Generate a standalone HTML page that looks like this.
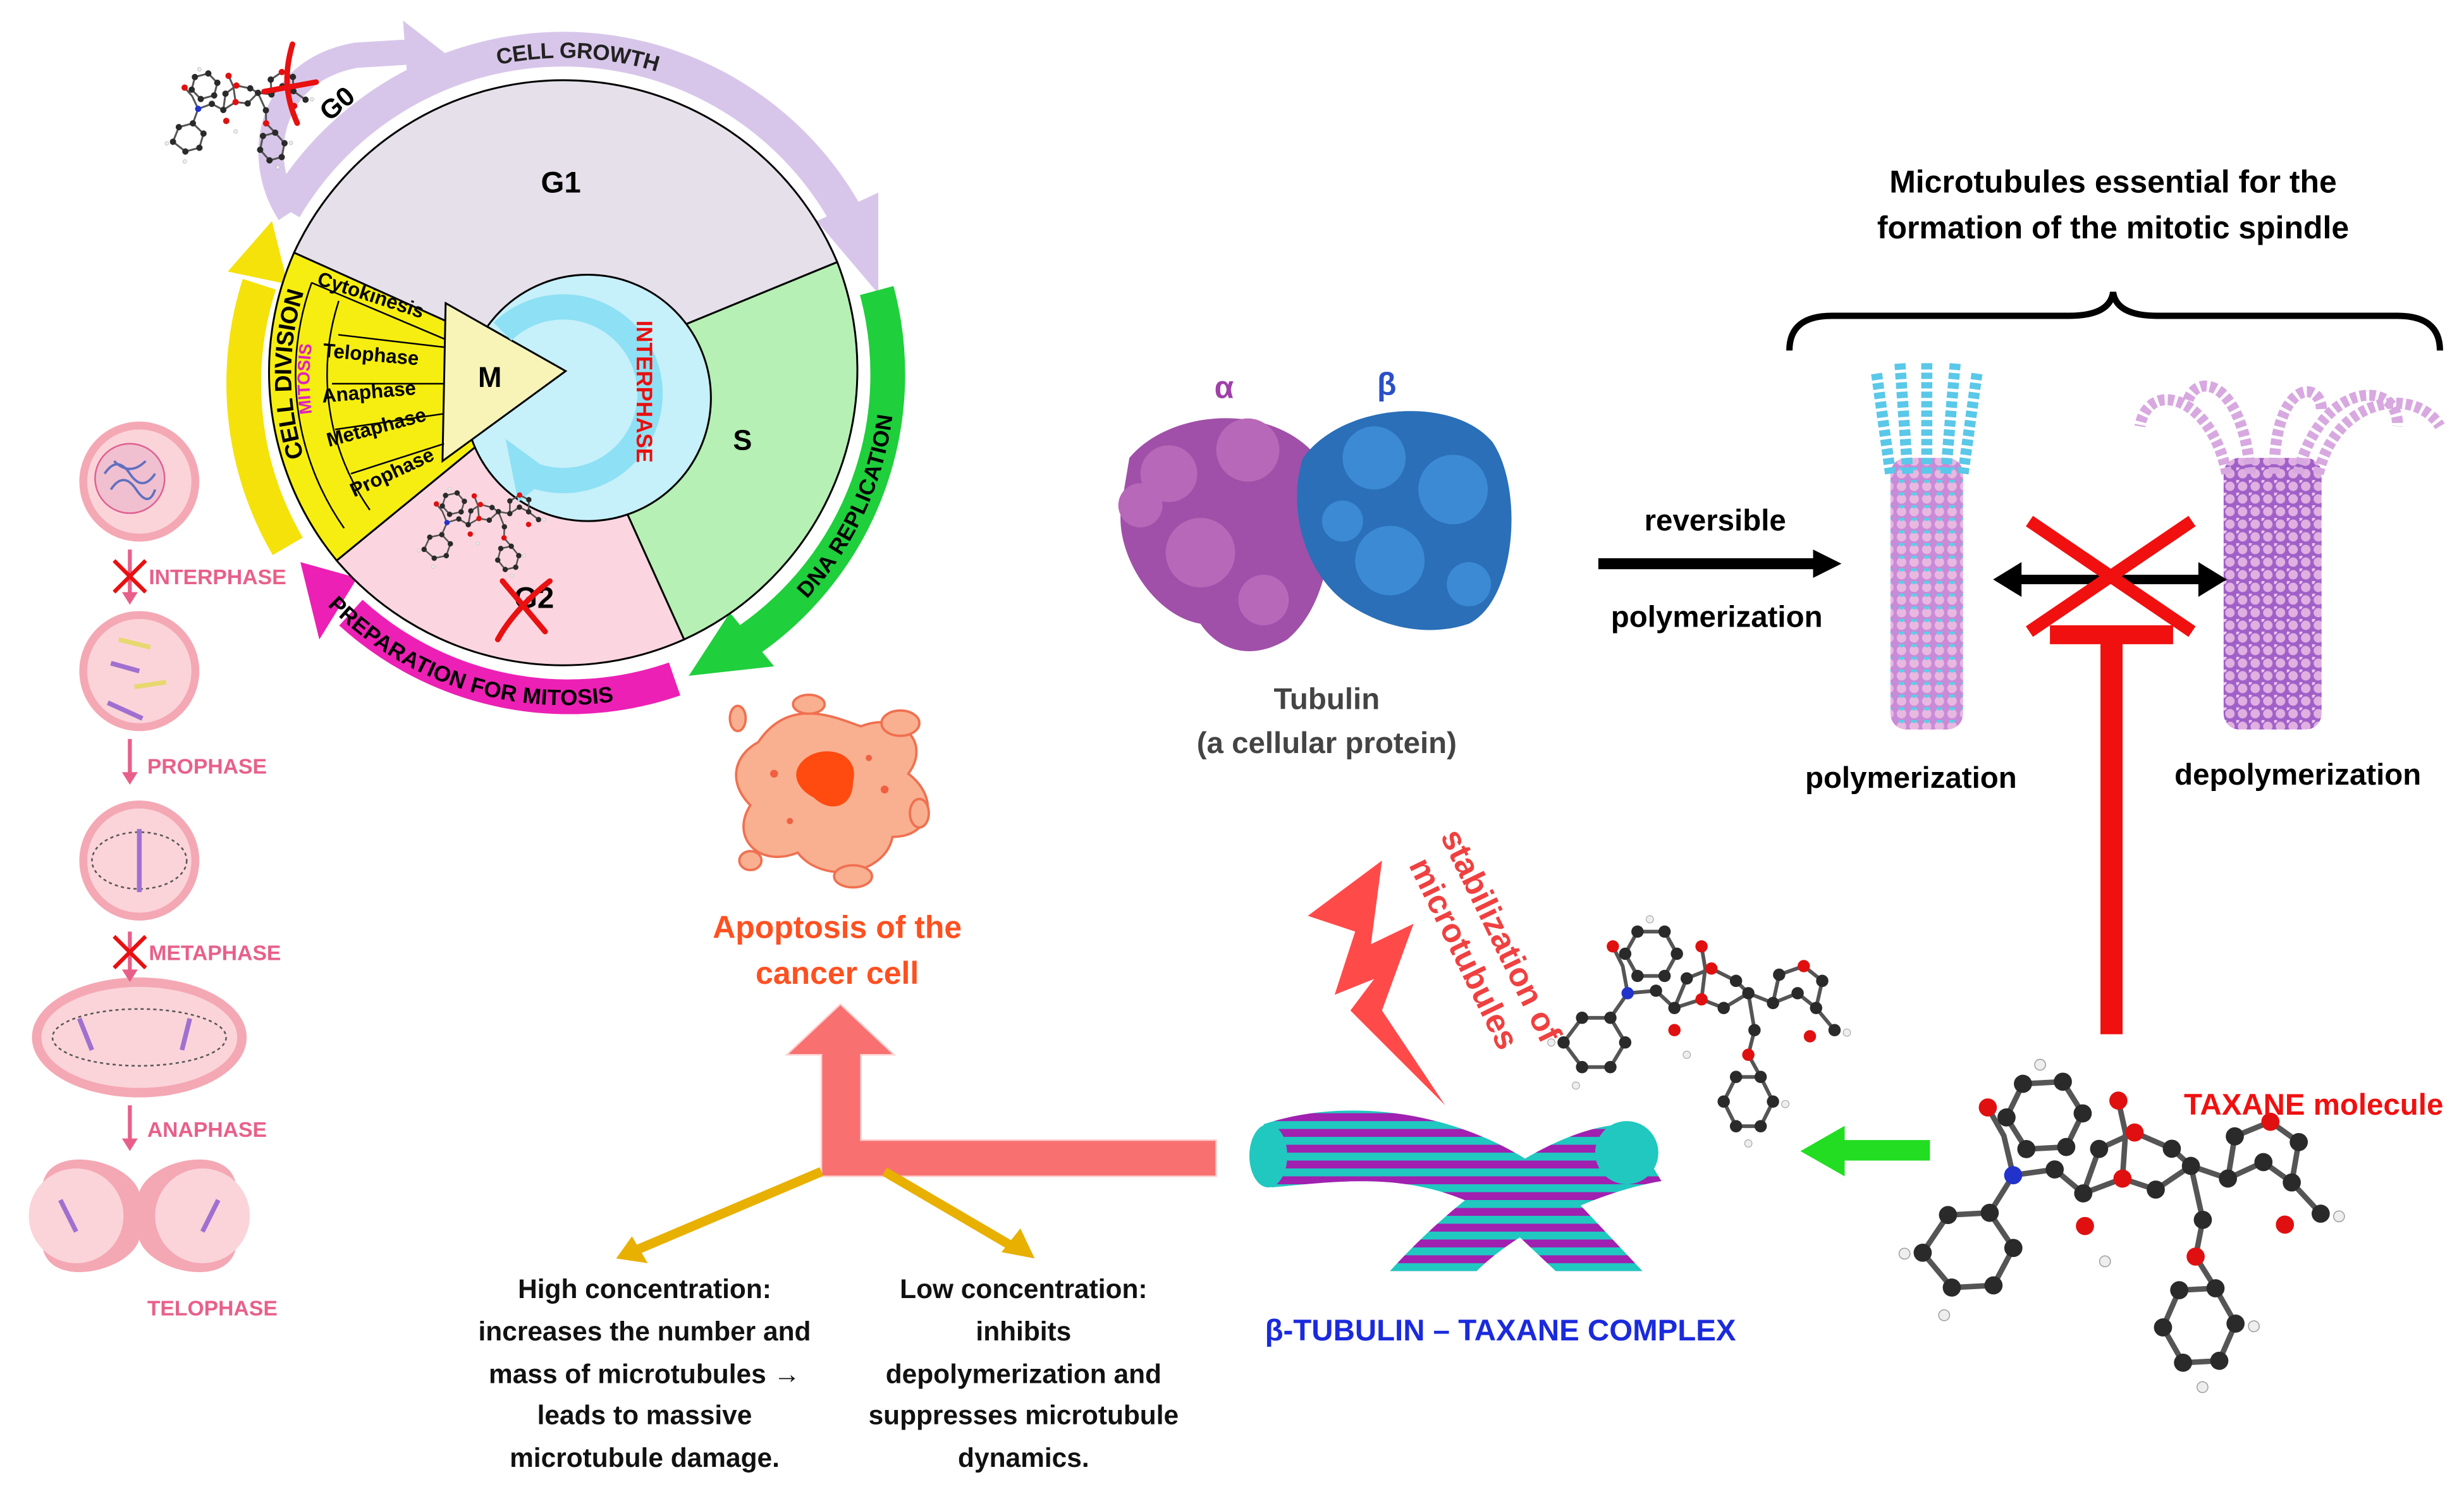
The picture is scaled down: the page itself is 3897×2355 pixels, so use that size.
<!DOCTYPE html>
<html><head><meta charset="utf-8"><style>
html,body{margin:0;padding:0;background:#fff;}
svg{display:block;}
text{font-family:"Liberation Sans",sans-serif;font-weight:bold;}
</style></head><body>
<svg width="3897" height="2355" viewBox="0 0 1560 943" xmlns="http://www.w3.org/2000/svg">
<defs>
<g id="mol">
 <g stroke="#555" stroke-width="3" fill="none">
  <polyline points="0,90 15,70 38,70 50,90 38,110 15,110 0,90"/>
  <polyline points="38,70 52,50 75,48 90,62 112,55 130,62 150,50 170,58 190,50 205,62 220,80"/>
  <polyline points="52,50 48,28 40,12"/>
  <polyline points="60,0 82,0 92,18 82,36 60,36 50,18 60,0"/>
  <polyline points="90,62 100,38 120,30 140,40 150,50"/>
  <polyline points="170,58 175,35 195,28 210,40 205,62"/>
  <polyline points="150,50 155,80 150,100 160,118"/>
  <polyline points="140,118 160,118 170,138 160,158 140,158 130,138 140,118"/>
  <polyline points="112,55 115,30 112,12"/>
 </g>
 <g fill="#2a2a2a">
  <circle cx="0" cy="90" r="5"/><circle cx="15" cy="70" r="5"/><circle cx="38" cy="70" r="5"/><circle cx="50" cy="90" r="5"/><circle cx="38" cy="110" r="5"/><circle cx="15" cy="110" r="5"/>
  <circle cx="75" cy="48" r="5"/><circle cx="90" cy="62" r="5"/><circle cx="130" cy="62" r="5"/><circle cx="150" cy="50" r="5"/><circle cx="170" cy="58" r="5"/><circle cx="190" cy="50" r="5"/><circle cx="205" cy="62" r="5"/><circle cx="220" cy="80" r="5"/>
  <circle cx="60" cy="0" r="5"/><circle cx="82" cy="0" r="5"/><circle cx="92" cy="18" r="5"/><circle cx="82" cy="36" r="5"/><circle cx="60" cy="36" r="5"/><circle cx="50" cy="18" r="5"/>
  <circle cx="100" cy="38" r="5"/><circle cx="140" cy="40" r="5"/><circle cx="175" cy="35" r="5"/><circle cx="210" cy="40" r="5"/>
  <circle cx="155" cy="80" r="5"/><circle cx="140" cy="118" r="5"/><circle cx="160" cy="118" r="5"/><circle cx="170" cy="138" r="5"/><circle cx="160" cy="158" r="5"/><circle cx="140" cy="158" r="5"/><circle cx="130" cy="138" r="5"/>
 </g>
 <g fill="#e01010">
  <circle cx="112" cy="55" r="5"/><circle cx="120" cy="30" r="5"/><circle cx="112" cy="12" r="5"/><circle cx="195" cy="28" r="5"/><circle cx="150" cy="100" r="5"/><circle cx="40" cy="12" r="5"/><circle cx="90" cy="80" r="5"/><circle cx="200" cy="85" r="5"/>
 </g>
 <circle cx="52" cy="50" r="5" fill="#2233cc"/>
 <g fill="#eee" stroke="#999" stroke-width="0.5">
  <circle cx="-10" cy="90" r="3"/><circle cx="10" cy="125" r="3"/><circle cx="230" cy="82" r="3"/><circle cx="70" cy="-10" r="3"/><circle cx="180" cy="140" r="3"/><circle cx="150" cy="172" r="3"/><circle cx="100" cy="100" r="3"/>
 </g>
</g>
<pattern id="mtp" width="8" height="8" patternUnits="userSpaceOnUse">
 <rect width="8" height="8" fill="#c98ad8"/><circle cx="4" cy="4" r="3" fill="#e8b8e0"/><circle cx="4" cy="0" r="2" fill="#5ad0e8"/>
</pattern>
<pattern id="mtp2" width="8" height="8" patternUnits="userSpaceOnUse">
 <rect width="8" height="8" fill="#a060c8"/><circle cx="4" cy="4" r="3" fill="#e0b0e0"/><circle cx="0" cy="0" r="2" fill="#f0c8f0"/>
</pattern>
<pattern id="cx" width="10" height="10" patternUnits="userSpaceOnUse">
 <rect width="10" height="10" fill="#a020b0"/><rect width="10" height="5" fill="#20c8c0"/>
</pattern>
<path id="pGrowth" d="M 286.9,44.4 A 205,205 0 0 1 443.6,51.2"/>
<path id="pDNA" d="M 459.5,414.5 A 205,205 0 0 0 558.9,201.4"/>
<path id="pPrep" d="M 195.5,363.2 A 205,205 0 0 0 410,435"/>
<path id="pDiv" d="M 189.7,297.9 A 178,178 0 0 1 189.7,176.1"/>
<path id="pMit" d="M 200,290 A 160,160 0 0 1 200,190"/>
</defs>

<g>
 <path d="M 183,135 C 160,100 170,45 225,35 L 258,33" fill="none" stroke="#d8c6ea" stroke-width="16"/>
 <polygon points="255,13 282,34 258,53" fill="#d8c6ea"/>
 <path d="M 180,132 A 205,205 0 0 1 542.8,150.4" fill="none" stroke="#d8c6ea" stroke-width="22"/>
 <polygon points="517,140 556,122 556,186" fill="#d8c6ea"/>
 <path d="M 555,184 A 205,205 0 0 1 474.6,405" fill="none" stroke="#1fcf3c" stroke-width="22"/>
 <polygon points="462,388 490,422 436,428" fill="#1fcf3c"/>
 <path d="M 427,430 A 205,205 0 0 1 222,388" fill="none" stroke="#ec20b4" stroke-width="22"/>
 <polygon points="226,366 202,405 190,356" fill="#ec20b4"/>
 <path d="M 182,346 A 205,205 0 0 1 164,180" fill="none" stroke="#f4e20a" stroke-width="22"/>
 <polygon points="182,180 144,172 172,140" fill="#f4e20a"/>
 <g stroke="#000" stroke-width="1.2">
  <path d="M357,237 L186,160 A188,188 0 0 1 530,166 Z" fill="#e6e0ea"/>
  <path d="M357,237 L530,166 A188,188 0 0 1 433,405 Z" fill="#b6f0b4"/>
  <path d="M357,237 L433,405 A188,188 0 0 1 213,355 Z" fill="#fbd6e0"/>
  <path d="M357,237 L213,355 A188,188 0 0 1 186,160 Z" fill="#f6ee10"/>
  <circle cx="372" cy="252" r="78" fill="#c6f0fa"/>
  <path d="M 282,192 L 358,235 L 280,292 Z" fill="#f8f4b8"/>
 </g>
 <path d="M 318,210 A 55,55 0 1 1 335,300" fill="none" stroke="#8ee0f4" stroke-width="16"/>
 <polygon points="320,278 350,300 328,318" fill="#8ee0f4"/>
 <g stroke="#000" stroke-width="1" fill="none">
  <path d="M 217.7,334.5 A 170,170 0 0 1 197.2,178.9"/>
  <path d="M 234,323 A 150,150 0 0 1 214.3,190.6"/>
  <line x1="197" y1="179" x2="282" y2="215"/>
  <line x1="214" y1="212" x2="282" y2="220"/>
  <line x1="210" y1="243" x2="281" y2="243"/>
  <line x1="212" y1="272" x2="281" y2="262"/>
  <line x1="222" y1="300" x2="281" y2="281"/>
 </g>
 <text x="355" y="122" font-size="19" text-anchor="middle">G1</text>
 <text x="470" y="285" font-size="18" text-anchor="middle">S</text>
 <text x="338" y="385" font-size="19" text-anchor="middle">G2</text>
 <text x="310" y="245" font-size="18" text-anchor="middle">M</text>
 <text x="217" y="70" font-size="17" transform="rotate(-40 217 70)" text-anchor="middle">G0</text>
 <g font-size="12.5">
  <text x="200" y="180" transform="rotate(18 200 180)">Cytokinesis</text>
  <text x="204" y="226" transform="rotate(5 204 226)">Telophase</text>
  <text x="204" y="255" transform="rotate(-5 204 255)">Anaphase</text>
  <text x="208" y="283" transform="rotate(-15 208 283)">Metaphase</text>
  <text x="224" y="315" transform="rotate(-25 224 315)">Prophase</text>
 </g>
 <text font-size="14" fill="#222"><textPath href="#pGrowth" startOffset="50%" text-anchor="middle" dominant-baseline="central">CELL GROWTH</textPath></text>
 <text font-size="14" fill="#000"><textPath href="#pDNA" startOffset="50%" text-anchor="middle" dominant-baseline="central">DNA REPLICATION</textPath></text>
 <text font-size="14" fill="#000"><textPath href="#pPrep" startOffset="50%" text-anchor="middle" dominant-baseline="central">PREPARATION FOR MITOSIS</textPath></text>
 <text font-size="15" fill="#000"><textPath href="#pDiv" startOffset="50%" text-anchor="middle" dominant-baseline="central">CELL DIVISION</textPath></text>
 <text font-size="11" fill="#e020c0"><textPath href="#pMit" startOffset="50%" text-anchor="middle" dominant-baseline="central">MITOSIS</textPath></text>
 <text x="403" y="248" font-size="14" fill="#e81010" transform="rotate(90 403 248)" text-anchor="middle">INTERPHASE</text>
 <use href="#mol" transform="translate(100,55) scale(0.4) rotate(-15)"/>
 <use href="#mol" transform="translate(262,318) scale(0.34) rotate(-12)"/>
 <g stroke="#e81010" stroke-width="3.5" fill="none" stroke-linecap="round">
  <line x1="167" y1="58" x2="200" y2="52"/><path d="M 185,28 C 180,45 180,60 188,78"/>
  <line x1="318" y1="368" x2="345" y2="400"/><path d="M 348,368 C 335,378 322,392 315,405"/>
 </g>
</g>

<g>
 <circle cx="88" cy="305" r="38" fill="#f4a8b4"/><circle cx="88" cy="305" r="33" fill="#fbd4da"/>
 <circle cx="82" cy="303" r="22" fill="#f0c0d0" stroke="#e06090" stroke-width="1"/>
 <path d="M 66,300 q 8,-12 16,0 t 16,0 M 70,310 q 8,-12 16,0 t 12,0 M 72,292 q 10,10 20,0" stroke="#6070c0" stroke-width="1.5" fill="none"/>
 <circle cx="88" cy="425" r="38" fill="#f4a8b4"/><circle cx="88" cy="425" r="33" fill="#fbd4da"/>
 <g stroke="#e8d870" stroke-width="3"><line x1="75" y1="405" x2="95" y2="410"/><line x1="85" y1="435" x2="105" y2="432"/></g>
 <g stroke="#a070d0" stroke-width="3"><line x1="70" y1="420" x2="88" y2="425"/><line x1="68" y1="445" x2="90" y2="455"/></g>
 <circle cx="88" cy="545" r="38" fill="#f4a8b4"/><circle cx="88" cy="545" r="33" fill="#fbd4da"/>
 <ellipse cx="88" cy="545" rx="30" ry="18" fill="none" stroke="#555" stroke-dasharray="2 2"/>
 <g stroke="#a070d0" stroke-width="3"><line x1="88" y1="525" x2="88" y2="565"/></g>
 <ellipse cx="88" cy="657" rx="68" ry="38" fill="#f4a8b4"/><ellipse cx="88" cy="657" rx="62" ry="32" fill="#fbd4da"/>
 <ellipse cx="88" cy="657" rx="55" ry="18" fill="none" stroke="#555" stroke-dasharray="2 2"/>
 <g stroke="#a070d0" stroke-width="3"><line x1="50" y1="645" x2="58" y2="665"/><line x1="120" y1="645" x2="115" y2="665"/></g>
 <path d="M 30,770 C 10,720 80,730 88,755 C 96,730 166,720 146,770 C 166,820 96,810 88,785 C 80,810 10,820 30,770 Z" fill="#f4a8b4"/>
 <circle cx="48" cy="770" r="30" fill="#fbd4da"/><circle cx="128" cy="770" r="30" fill="#fbd4da"/>
 <g stroke="#a070d0" stroke-width="3"><line x1="38" y1="760" x2="48" y2="780"/><line x1="138" y1="760" x2="128" y2="780"/></g>
 <g stroke="#e8608a" stroke-width="2.5" fill="#e8608a">
  <line x1="82" y1="348" x2="82" y2="376"/><line x1="82" y1="468" x2="82" y2="490"/><line x1="82" y1="590" x2="82" y2="615"/><line x1="82" y1="700" x2="82" y2="722"/>
 </g>
 <g fill="#e8608a"><polygon points="77,375 87,375 82,383"/><polygon points="77,489 87,489 82,497"/><polygon points="77,614 87,614 82,622"/><polygon points="77,721 87,721 82,729"/></g>
 <g stroke="#e81010" stroke-width="2.5"><line x1="72" y1="355" x2="92" y2="375"/><line x1="92" y1="355" x2="72" y2="375"/><line x1="72" y1="593" x2="92" y2="613"/><line x1="92" y1="593" x2="72" y2="613"/></g>
 <g fill="#e8608a" font-size="13.5">
  <text x="94" y="370">INTERPHASE</text><text x="93" y="490">PROPHASE</text><text x="94" y="608">METAPHASE</text><text x="93" y="720">ANAPHASE</text><text x="93" y="833">TELOPHASE</text>
 </g>
</g>

<g fill="#f8b090" stroke="#f07050" stroke-width="1.5">
 <path d="M 480,470 C 500,440 530,455 545,460 C 570,450 590,470 575,490 C 595,505 590,530 565,530 C 560,555 520,560 505,540 C 480,550 462,530 475,510 C 460,495 465,478 480,470 Z"/>
 <ellipse cx="467" cy="455" rx="5" ry="8"/><ellipse cx="512" cy="446" rx="10" ry="6"/><ellipse cx="570" cy="458" rx="12" ry="8"/>
 <ellipse cx="582" cy="515" rx="6" ry="9"/><ellipse cx="540" cy="555" rx="12" ry="7"/><ellipse cx="475" cy="545" rx="7" ry="6"/>
</g>
<path d="M 508,482 C 520,470 545,476 540,495 C 540,512 525,515 515,505 C 505,500 500,490 508,482 Z" fill="#ff4a10"/>
<g fill="#f06040"><circle cx="490" cy="490" r="2.5"/><circle cx="560" cy="500" r="2.5"/><circle cx="500" cy="520" r="2"/><circle cx="550" cy="480" r="2"/></g>
<text x="530" y="594" font-size="20" fill="#ff5020" text-anchor="middle">Apoptosis of the</text>
<text x="530" y="623" font-size="20" fill="#ff5020" text-anchor="middle">cancer cell</text>

<g>
 <path d="M 715,290 C 740,260 800,255 830,285 C 850,320 845,380 815,405 C 790,420 770,410 760,395 C 730,390 705,350 710,320 Z" fill="#a050a8"/>
 <g fill="#b868b8"><circle cx="740" cy="300" r="18"/><circle cx="790" cy="285" r="20"/><circle cx="760" cy="350" r="22"/><circle cx="800" cy="380" r="16"/><circle cx="722" cy="320" r="14"/></g>
 <path d="M 825,290 C 850,255 920,250 945,280 C 965,310 960,380 930,395 C 900,405 870,395 850,380 C 825,360 815,320 825,290 Z" fill="#2a6fb8"/>
 <g fill="#3c8ad4"><circle cx="870" cy="290" r="20"/><circle cx="920" cy="310" r="22"/><circle cx="880" cy="355" r="22"/><circle cx="930" cy="370" r="14"/><circle cx="850" cy="330" r="13"/></g>
 <text x="775" y="252" font-size="20" fill="#a040a8" text-anchor="middle">α</text>
 <text x="878" y="250" font-size="20" fill="#2a50c8" text-anchor="middle">β</text>
 <text x="840" y="449" font-size="19" fill="#444" text-anchor="middle">Tubulin</text>
 <text x="840" y="477" font-size="19" fill="#444" text-anchor="middle">(a cellular protein)</text>
</g>
<line x1="1012" y1="357" x2="1150" y2="357" stroke="#000" stroke-width="7"/>
<polygon points="1148,348 1166,357 1148,366" fill="#000"/>
<text x="1086" y="336" font-size="19" text-anchor="middle">reversible</text>
<text x="1087" y="397" font-size="19" text-anchor="middle">polymerization</text>

<text x="1338" y="122" font-size="20" text-anchor="middle">Microtubules essential for the</text>
<text x="1338" y="151" font-size="20" text-anchor="middle">formation of the mitotic spindle</text>
<path d="M 1133,222 Q 1133,200 1160,200 L 1310,200 Q 1336,200 1338,185 Q 1340,200 1366,200 L 1518,200 Q 1545,200 1545,222" fill="none" stroke="#000" stroke-width="4"/>

<g>
 <rect x="1197" y="290" width="46" height="172" rx="10" fill="url(#mtp)"/>
 <path d="M 1197,300 L 1188,235 M 1208,300 L 1203,230 M 1220,300 L 1220,230 M 1232,300 L 1238,230 M 1243,300 L 1252,235" stroke="#5ac8e8" stroke-width="7" stroke-dasharray="4 2" fill="none"/>
 <rect x="1408" y="290" width="62" height="172" rx="10" fill="url(#mtp2)"/>
 <path d="M 1410,300 C 1400,250 1360,240 1355,270 M 1425,300 C 1420,240 1390,235 1385,255 M 1440,300 C 1440,240 1470,240 1470,260 M 1455,300 C 1470,240 1520,240 1518,270 M 1468,300 C 1480,250 1530,245 1545,270" stroke="#d8a8e0" stroke-width="7" stroke-dasharray="4 2" fill="none"/>
</g>
<line x1="1275" y1="367" x2="1398" y2="367" stroke="#000" stroke-width="6"/>
<polygon points="1262,367 1280,356 1280,378" fill="#000"/>
<polygon points="1410,367 1392,356 1392,378" fill="#000"/>
<g stroke="#f01010" stroke-width="8"><line x1="1285" y1="330" x2="1388" y2="400"/><line x1="1388" y1="330" x2="1285" y2="400"/></g>
<line x1="1337" y1="400" x2="1337" y2="655" stroke="#f01010" stroke-width="14"/>
<line x1="1298" y1="402" x2="1376" y2="402" stroke="#f01010" stroke-width="12"/>
<text x="1210" y="499" font-size="19" text-anchor="middle">polymerization</text>
<text x="1455" y="497" font-size="19" text-anchor="middle">depolymerization</text>

<use href="#mol" transform="translate(1212,690) scale(1.15) rotate(-3)"/>
<text x="1465" y="706" font-size="19" fill="#f01010" text-anchor="middle">TAXANE molecule</text>
<rect x="1165" y="722" width="57" height="13" fill="#22dd22"/>
<polygon points="1140,729 1168,713 1168,745" fill="#22dd22"/>

<g>
 <path d="M 800,712 C 860,692 940,707 990,752 L 1040,805 L 985,805 L 950,772 C 900,740 850,748 805,752 Z" fill="url(#cx)"/>
 <path d="M 880,805 C 930,750 990,712 1030,712 L 1052,748 C 1010,755 960,780 935,805 Z" fill="url(#cx)"/>
 <ellipse cx="803" cy="732" rx="12" ry="20" fill="#20c8c0"/>
 <ellipse cx="1030" cy="730" rx="20" ry="20" fill="#20c8c0"/>
 <use href="#mol" transform="translate(990,590) scale(0.78)"/>
</g>
<text x="950" y="849" font-size="19" fill="#1a2adc" text-anchor="middle">β-TUBULIN – TAXANE COMPLEX</text>
<polygon points="828,580 875,545 868,598 895,585 875,640 915,700 855,640 870,620 845,630 858,590" fill="#ff4a4a"/>
<text font-size="21" fill="#f04040" transform="rotate(64 935 600)" text-anchor="middle"><tspan x="935" y="590">stabilization of</tspan><tspan x="935" y="616">microtubules</tspan></text>

<path d="M 770,722 L 545,722 L 545,668 L 566,668 L 532,636 L 498,668 L 520,668 L 520,745 L 770,745 Z" fill="#f87070" stroke="#ffd0d0" stroke-width="1"/>
<g stroke="#e8b000" stroke-width="6">
 <line x1="520" y1="742" x2="402" y2="792"/>
 <line x1="560" y1="742" x2="642" y2="790"/>
</g>
<polygon points="390,797 400,783 410,800" fill="#e8b000"/>
<polygon points="655,797 634,793 646,778" fill="#e8b000"/>

<g font-size="17" text-anchor="middle" fill="#111">
 <text x="408" y="822">High concentration:</text>
 <text x="408" y="849">increases the number and</text>
 <text x="408" y="876">mass of microtubules →</text>
 <text x="408" y="902">leads to massive</text>
 <text x="408" y="929">microtubule damage.</text>
 <text x="648" y="822">Low concentration:</text>
 <text x="648" y="849">inhibits</text>
 <text x="648" y="876">depolymerization and</text>
 <text x="648" y="902">suppresses microtubule</text>
 <text x="648" y="929">dynamics.</text>
</g>
</svg>
</body></html>
